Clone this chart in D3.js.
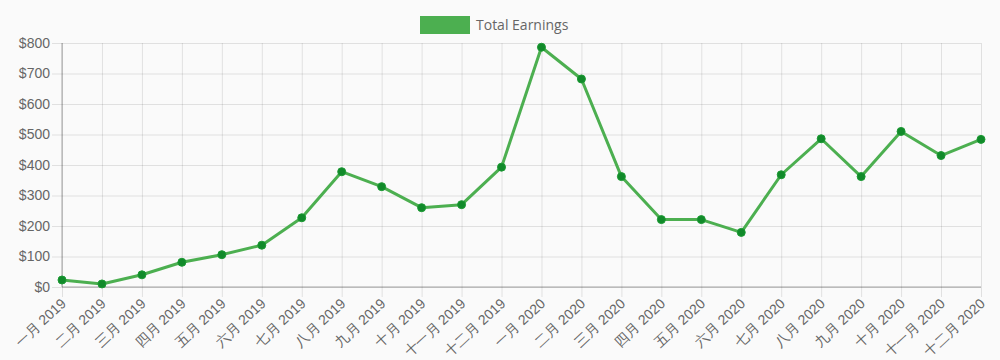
<!DOCTYPE html>
<html>
<head>
<meta charset="utf-8">
<script src="https://cdn.jsdelivr.net/npm/d3@7"></script>
<style>
  html, body { margin: 0; padding: 0; background: #fafafa; }
  svg { display: block; font-family: "Open Sans", "Noto Sans CJK SC", sans-serif; }
</style>
</head>
<body>
<svg id="chart" width="1000" height="360"></svg>
<script>
// chart data
const months = ['一月', '二月', '三月', '四月', '五月', '六月', '七月', '八月', '九月', '十月', '十一月', '十二月'];
const labels = [...months.map(m => m + ' 2019'), ...months.map(m => m + ' 2020')];
const earnings = [23, 10, 40, 81, 106, 137, 227, 378, 329, 260, 270, 393,
                  786, 682, 362, 221, 221, 179, 368, 486, 362, 510, 431, 484];
const yTicks = [0, 100, 200, 300, 400, 500, 600, 700, 800];
const seriesName = 'Total Earnings';

const svg = d3.select('#chart');
const margin = {top: 43, right: 19, bottom: 73, left: 62};
const width = 1000 - margin.left - margin.right;
const height = 360 - margin.top - margin.bottom;

const x = d3.scalePoint().domain(labels).range([0, width]);
const y = d3.scaleLinear().domain([0, 800]).range([height, 0]);

const g = svg.append('g').attr('transform', `translate(${margin.left},${margin.top})`);

// horizontal grid lines + y labels
const yAxis = g.append('g')
    .call(d3.axisLeft(y).tickValues(yTicks).tickSize(0).tickFormat(d => '$' + d));
yAxis.select('.domain').remove();
yAxis.selectAll('.tick line')
    .attr('x1', -10).attr('x2', width)
    .attr('stroke', 'rgba(0,0,0,0.1)');
yAxis.selectAll('.tick text')
    .attr('x', -12)
    .attr('fill', '#666')
    .style('font-size', '14px');

// vertical grid lines + x labels
const xAxis = g.append('g')
    .attr('transform', `translate(0,${height})`)
    .call(d3.axisBottom(x).tickSize(0));
xAxis.select('.domain').remove();
xAxis.selectAll('.tick line')
    .attr('y1', -height).attr('y2', 10)
    .attr('stroke', 'rgba(0,0,0,0.1)');
xAxis.selectAll('.tick text')
    .attr('fill', '#666')
    .style('font-size', '14px')
    .attr('text-anchor', 'end')
    .attr('y', 0)
    .attr('dy', '0.35em')
    .attr('transform', 'translate(1,14) rotate(-43)');

// axis lines
g.append('line')
    .attr('x1', 0).attr('x2', 0).attr('y1', 0).attr('y2', height)
    .attr('stroke', 'rgba(0,0,0,0.22)').attr('stroke-width', 1.5);
g.append('line')
    .attr('x1', 0).attr('x2', width).attr('y1', height).attr('y2', height)
    .attr('stroke', 'rgba(0,0,0,0.22)').attr('stroke-width', 1.5);

// line
const line = d3.line()
    .x((d, i) => x(labels[i]))
    .y(d => y(d));

g.append('path')
    .datum(earnings)
    .attr('fill', 'none')
    .attr('stroke', '#4caf50')
    .attr('stroke-width', 3)
    .attr('stroke-linejoin', 'round')
    .attr('d', line);

g.selectAll('.pt')
    .data(earnings)
    .enter().append('circle')
    .attr('class', 'pt')
    .attr('cx', (d, i) => x(labels[i]))
    .attr('cy', d => y(d))
    .attr('r', 4)
    .attr('fill', '#118a2a')
    .attr('stroke', '#1b9a33')
    .attr('stroke-width', 1);

// legend
const legend = svg.append('g').attr('transform', 'translate(420,16)');
legend.append('rect')
    .attr('width', 50).attr('height', 18)
    .attr('fill', '#4caf50');
legend.append('text')
    .attr('x', 56).attr('y', 14)
    .attr('fill', '#666')
    .style('font-size', '14px')
    .text(seriesName);
</script>
</body>
</html>
